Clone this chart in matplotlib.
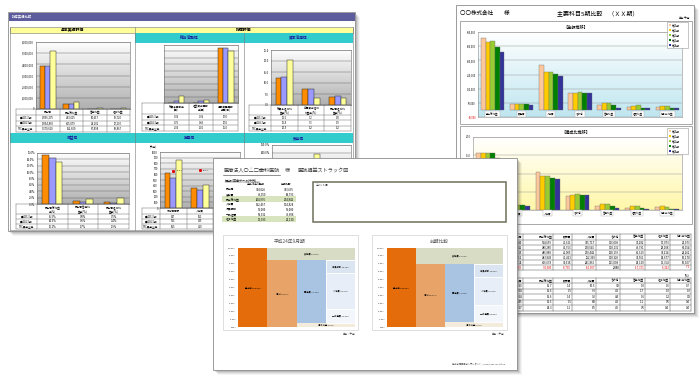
import matplotlib
matplotlib.use("Agg")
import matplotlib.pyplot as plt
import numpy as np
from matplotlib.colors import to_rgb
from matplotlib.patches import Rectangle

plt.rcParams["font.family"] = ["Noto Sans CJK JP", "DejaVu Sans"]

# ---- left sheet: 財務実績比較 ----
l_rows = ["■H23.3期", "■H24.3期", "TKC黒字企業"]
l_colors = ["#ff8c00", "#9999ff", "#ffff99"]

basic_cats = ["売上高", "売上総利益", "営業利益", "経常利益"]
basic_vals = [[3855275, 443615, 30617, 19720],
              [3854860, 405079, 24101, 17200],
              [5170610, 662600, 87894, 69867]]

activity_cats = ["総資本回転率\n(回)", "経営資本回転\n率(回)", "棚卸資産回転\n期間(日)"]
activity_vals = [[0.06, 0.06, 17.0],
                 [0.76, 0.69, 17.0],
                 [2.06, 1.06, 16.0]]

capital_cats = ["総資本経常利\n益率(%)", "自己資本経常\n利益率(%)", "売上高経常利\n益率(%)"]
capital_vals = [[12.5, 7.2, 3.8],
                [12.8, 7.3, 3.9],
                [20.5, 3.2, 3.2]]

profit_cats = ["売上高総利益\n率(%)", "売上高営業利\n益率(%)", "売上高経常利\n益率(%)"]
profit_vals = [[15.5, 0.8, 0.5],
               [14.3, 0.6, 0.4],
               [13.2, 1.7, 1.9]]

product_cats = ["付加価値額", "人件費", "労働生産性"]
product_vals = [[617, 351, 480],
                [533, 315, 450],
                [855, 410, 520]]
labor_share = [57.5, 58.4]

safety_vals = [[120.0, 60.0, 40.0],
               [118.0, 55.0, 42.0],
               [110.0, 136.0, 60.0]]

# ---- right sheet: 主要科目5期比較 ----
periods = ["第10期", "第11期", "第12期", "第13期", "第14期"]
r_colors = ["#fcc79a", "#ffcc00", "#99cc33", "#008000", "#333399"]
items = ["売上総利益", "販売費", "人件費", "その他", "営業利益", "経常利益", "税引前利益"]
amounts = [[504659, 41621, 315717, 116009, 31282, 17073, 21073],
           [480280, 43753, 270545, 118131, 49791, 28108, 30154],
           [486888, 42005, 270442, 128190, 46319, 38214, 24262],
           [443843, 41413, 252369, 118320, 31561, 14677, 10178],
           [406678, 32618, 241862, 121008, 14130, 11354, 10107]]
amount_diff = [-93985, -8795, -10507, 2888, -17371, -5323, -71]
sales_amount = [3212240, 3082242, 3116835, 2861251, 2846914, -364093]
ratios = [[15.7, 1.4, 10.5, 3.8, 1.0, 0.6, 0.7],
          [15.6, 1.5, 9.3, 4.1, 1.7, 1.0, 1.0],
          [15.6, 1.4, 9.2, 4.4, 1.6, 1.2, 0.8],
          [15.5, 1.5, 8.8, 4.1, 1.1, 0.5, 0.4],
          [14.3, 1.1, 8.5, 4.2, 0.5, 0.4, 0.4]]
sales_ratio = ["100.0013", "100.0014", "100.0014", "100.0045", "100.0017"]

# ---- front sheet: 医院損益ストラック図 ----
pl_items = ["売上高", "変動費", "売上総利益", "人件費", "役員報酬", "一般経費", "経常利益"]
pl_now = [314026, 49050, 264976, 152457, 50000, 58332, 13993]
pl_prev = [343635, 68793, 274842, 174824, 50000, 79608, 21130]
strack_titles = ["平成24年9月期", "前期比較"]
sales_pct = [100.0, 100.0]
variable_pct = [15.62, 19.99]
margin_pct = [84.38, 80.01]
fixed_pct = [79.79, 73.84]
officer_pct = [15.89, 16.62]
staff_pct = [45.32, 35.14]
general_pct = [18.58, 22.08]
profit_pct = [4.59, 6.17]

W, H = 700, 378
FRONT = (213, 158, 517, 370)   # front sheet, hides what lies behind it
fig = plt.figure(figsize=(7, 3.78), dpi=100)
fig.patch.set_facecolor("white")


def hidden(x, y):
    return FRONT[0] - 1 < x < FRONT[2] + 1 and FRONT[1] - 2 < y < FRONT[3]


def px_axes(x0, y0, x1, y1):
    return fig.add_axes([x0 / W, 1 - y1 / H, (x1 - x0) / W, (y1 - y0) / H])


def canvas():
    ax = fig.add_axes([0, 0, 1, 1])
    ax.set_xlim(0, W)
    ax.set_ylim(H, 0)
    ax.axis("off")
    return ax


def sheet(cv, x0, y0, x1, y1):
    for d, a in [(5, 0.04), (4, 0.06), (3, 0.08), (2, 0.1), (1, 0.14)]:
        cv.add_patch(Rectangle((x0 + d, y0 + d), x1 - x0, y1 - y0, fc="black", alpha=a, lw=0))
    cv.add_patch(Rectangle((x0, y0), x1 - x0, y1 - y0, fc="white", ec="#8c8c8c", lw=0.6))


def gradient(ax, top, bottom):
    t = np.linspace(0, 1, 64)[:, None, None]
    img = np.array(to_rgb(top)) * (1 - t) + np.array(to_rgb(bottom)) * t
    ax.imshow(img, extent=[0, 1, 0, 1], transform=ax.transAxes, aspect="auto", zorder=0)


def grid_table(cv, xe, ye, cells, fs=1.9, lw=0.3, colors=None, ha="center"):
    for x in xe:
        cv.plot([x, x], [ye[0], ye[-1]], color="#555555", lw=lw)
    for y in ye:
        cv.plot([xe[0], xe[-1]], [y, y], color="#555555", lw=lw)
    for r, row in enumerate(cells):
        for c, txt in enumerate(row):
            col = "black" if colors is None else colors[r][c]
            cy = (ye[r] + ye[r + 1]) / 2
            if ha == "right" and c > 0:
                tx, align = xe[c + 1] - 0.8, "right"
            else:
                tx, align = (xe[c] + xe[c + 1]) / 2, "center"
            if hidden(tx, cy):
                continue
            cv.text(tx, cy, txt, fontsize=fs, ha=align, va="center", color=col, linespacing=0.9)


def left_chart(box, vals, ymax, ystep, fmt):
    ax = px_axes(*box)
    gradient(ax, "#fdfdfd", "#b0b0b0")
    x = np.arange(len(vals[0]))
    for i, (v, c) in enumerate(zip(vals, l_colors)):
        ax.bar(x + (i - 1) * 0.22, v, 0.22, color=c, edgecolor="#303030", lw=0.35, zorder=3)
    ax.set_xlim(-0.5, len(x) - 0.5)
    ax.set_ylim(0, ymax)
    ticks = np.arange(0, ymax + ystep / 2, ystep)
    ax.set_yticks(ticks)
    labels = []
    for t in ticks:
        ypix = box[3] - t / ymax * (box[3] - box[1])
        labels.append("" if (fmt is None or hidden(box[0] - 3, ypix)) else fmt(t))
    ax.set_yticklabels(labels, fontsize=1.9)
    ax.yaxis.grid(True, color="#5a5a5a", lw=0.3)
    ax.set_axisbelow(True)
    ax.set_xticks([])
    ax.tick_params(length=0, pad=1.5)
    for s in ax.spines.values():
        s.set_color("#666666")
        s.set_linewidth(0.4)
    return ax


def left_rows(cats, vals, fmt):
    cells = [[""] + [c for c in cats]]
    for lab, v in zip(l_rows, vals):
        cells.append([lab] + [fmt(a) for a in v])
    return cells


# ================= left sheet =================
cv0 = canvas()
sheet(cv0, 8, 12, 355, 231)
cv0.add_patch(Rectangle((8.5, 13), 346, 7.5, fc="#5d5d9e", lw=0))
cv0.text(12, 16.8, "財務実績比較", fontsize=2.4, color="white", va="center")
cv0.add_patch(Rectangle((10, 26.5), 343, 6.5, fc="#ffff99", ec="#777777", lw=0.4))
cv0.text(73, 29.8, "基本実績評価", fontsize=2.8, va="center", ha="center", weight="bold")
cv0.text(244, 29.8, "指標評価", fontsize=2.8, va="center", ha="center", weight="bold")
cv0.add_patch(Rectangle((135, 33), 218, 10, fc="#33cccc", lw=0))
cv0.add_patch(Rectangle((10, 133), 343, 10, fc="#33cccc", lw=0))
for name, cx, cy in [("総合活動性", 189.5, 38), ("資本活用性", 298.5, 38),
                     ("収益性", 72.5, 138), ("生産性", 189.5, 138), ("安全性", 298.5, 138)]:
    cv0.text(cx, cy, name, fontsize=2.7, ha="center", va="center", color="#1a1a9c", weight="bold")
for x in [10, 135, 353]:
    cv0.plot([x, x], [26.5, 230], color="#777777", lw=0.4)
cv0.plot([244, 244], [33, 230], color="#777777", lw=0.4)
cv0.plot([10, 353], [230, 230], color="#777777", lw=0.4)

left_chart((36, 42, 130, 109), basic_vals, 6000000, 1000000, lambda t: f"{t:,.0f}")
left_chart((164, 45, 238, 103), activity_vals, 18, 2, None)
left_chart((271, 50, 351, 105), capital_vals, 25, 5, lambda t: f"{t:.1f}")
left_chart((37, 153, 129, 204), profit_vals, 16, 2, lambda t: f"{t:.1f}%")
ax_e = left_chart((160, 152, 240, 208), product_vals, 1000, 100, lambda t: f"{t:.0f}")
ax_e2 = ax_e.twinx()
ax_e2.plot(np.arange(len(labor_share)), labor_share, "s", color="#e00000", ms=1.1, zorder=5)
for i, v in enumerate(labor_share):
    ax_e2.text(i + 0.12, v, f"{v:.1f}%", fontsize=1.6, va="center")
ax_e2.set_ylim(0, 87)
ax_e2.axis("off")
left_chart((272, 145, 351, 205), safety_vals, 160, 20, lambda t: f"{t:.1f}%")
cv0b = canvas()
cv0b.text(150, 147.5, "(千円)", fontsize=1.8, va="center")

grid_table(cv0b, [16, 36, 59.5, 83, 106.5, 130], [109, 115, 120.5, 126, 131.5],
           left_rows(basic_cats, basic_vals, lambda a: f"{a:,.0f}"))
grid_table(cv0b, [142, 164, 188.7, 213.3, 238], [103, 114, 119.7, 125.3, 131],
           left_rows(activity_cats, activity_vals, lambda a: f"{a:.2f}" if a < 5 else f"{a:.1f}"))
grid_table(cv0b, [249, 271, 297.7, 324.3, 351], [105, 115, 120.3, 125.7, 131],
           left_rows(capital_cats, capital_vals, lambda a: f"{a:.1f}"))
grid_table(cv0b, [16, 37, 67.7, 98.3, 129], [204, 214, 219, 224, 229],
           left_rows(profit_cats, profit_vals, lambda a: f"{a:.1f}%"))
grid_table(cv0b, [142, 160, 186.7, 213.3, 240], [208, 214, 219, 224, 229],
           left_rows(product_cats, product_vals, lambda a: f"{a:.0f}"))

# ================= right sheet =================
cv1 = canvas()
sheet(cv1, 456, 5, 694, 313)
cv1.text(460, 13, "〇〇株式会社　　様", fontsize=4.0, va="center")
cv1.text(598, 13, "主要科目5期比較　（ＸＸ期）", fontsize=4.3, va="center", ha="center")
cv1.text(690, 18, "単位:千円", fontsize=1.9, va="center", ha="right")
cv1.add_patch(Rectangle((460, 21), 232, 103, fc="white", ec="#9a9a9a", lw=0.6))
cv1.add_patch(Rectangle((460, 126), 232, 98, fc="white", ec="#9a9a9a", lw=0.6))
cv1.text(576, 28, "【金額推移】", fontsize=3.0, ha="center", va="center")
cv1.text(576, 133, "【構成比推移】", fontsize=3.0, ha="center", va="center")


def right_chart(box, data, lo, hi, step, fmt, top, bottom, label_y):
    ax = px_axes(*box)
    gradient(ax, top, bottom)
    x = np.arange(len(items))
    for i, (v, c) in enumerate(zip(data, r_colors)):
        ax.bar(x + (i - 2) * 0.16, v, 0.16, color=c, edgecolor="#666666", lw=0.25, zorder=3)
    ax.set_xlim(-0.5, len(items) - 0.5)
    ax.set_ylim(lo, hi)
    ticks = np.arange(lo, hi + step / 2, step)
    ax.set_yticks(ticks)
    labels = []
    for t in ticks:
        ypix = box[3] - (t - lo) / (hi - lo) * (box[3] - box[1])
        labels.append("" if hidden(box[0] - 3, ypix) else fmt(t))
    labs = ax.set_yticklabels(labels, fontsize=1.8)
    for t, lab in zip(ticks, labs):
        if t < 0:
            lab.set_color("#e00000")
    ax.yaxis.grid(True, color="#8a8a8a", lw=0.3)
    ax.set_axisbelow(True)
    ax.set_xticks([])
    ax.tick_params(length=0, pad=1.5)
    for s in ax.spines.values():
        s.set_color("#8a8a8a")
        s.set_linewidth(0.4)
    for i, name in enumerate(items):
        ax.text(i, label_y, name, fontsize=1.8, ha="center", va="center", clip_on=False,
                bbox=dict(boxstyle="square,pad=0.35", fc="white", ec="#aaaaaa", lw=0.3))
    return ax


right_chart((478, 32, 682, 117), amounts, -50000, 550000, 100000,
            lambda t: f"{t:,.0f}", "#ffffff", "#bfe6f0", -28000)
right_chart((473, 137, 682, 210), ratios, 0, 20, 5,
            lambda t: f"{t:.1f}", "#ffffff", "#fff7a8", -0.9)

cv1b = canvas()
for y0 in [22, 128]:
    cv1b.add_patch(Rectangle((667, y0), 21, 26, fc="white", ec="#9a9a9a", lw=0.4))
    for k, (p, c) in enumerate(zip(periods, r_colors)):
        yy = y0 + 3 + k * 5
        cv1b.add_patch(Rectangle((669, yy - 1), 2, 2, fc=c, lw=0))
        cv1b.text(672, yy, p, fontsize=1.8, va="center")

head = ["年　度", "売上高"] + items
xe = [462, 495, 523, 553, 572, 596, 620, 645, 670, 691]
t1 = [head]
c1 = [["black"] * len(head)]
for p, s, row in zip(periods, sales_amount, amounts):
    t1.append([p, f"{s:,.0f}"] + [f"{a:,.0f}" for a in row])
    c1.append(["black"] * len(head))
t1.append(["増減", f"{sales_amount[-1]:,.0f}"] + [f"{a:,.0f}" for a in amount_diff])
c1.append(["#e00000" if a < 0 else "black" for a in [-1, sales_amount[-1]] + amount_diff])
c1[-1][0] = "black"
grid_table(cv1b, xe, [234, 239.5, 244.5, 249.5, 254.5, 259.5, 264.5, 270], t1,
           fs=2.0, lw=0.35, colors=c1, ha="right")
cv1b.text(689, 275, "(%)", fontsize=2.0, ha="right", va="center")
t2 = [head]
for p, s, row in zip(periods, sales_ratio, ratios):
    t2.append([p, s] + [f"{a:.1f}" for a in row])
grid_table(cv1b, xe, [278, 283, 288.5, 294, 299.5, 305, 310.5], t2, fs=2.0, lw=0.35, ha="right")

# ================= front sheet =================
cv2 = canvas()
sheet(cv2, *FRONT)
cv2.text(223, 171, "医療法人〇△□歯科医院", fontsize=3.7, va="center", color="#3c3c3c")
cv2.plot([223, 280], [174.5, 174.5], color="#3c3c3c", lw=0.4)
cv2.text(285, 171, "様", fontsize=3.7, va="center", color="#3c3c3c")
cv2.text(297, 171, "医院損益ストラック図", fontsize=3.7, va="center", color="#3c3c3c")

cv2.text(225, 180, "損益計算書データ(千円)", fontsize=2.2, va="center", color="#333333")
cv2.plot([225, 260], [182, 182], color="#333333", lw=0.3)
cv2.text(256, 184.2, "平成24年9月期", fontsize=1.9, va="center", ha="center")
cv2.text(286, 184.2, "前期比較", fontsize=1.9, va="center", ha="center")
for k, (lab, a, b) in enumerate(zip(pl_items, pl_now, pl_prev)):
    yy = 189 + k * 5
    if lab in ("売上総利益", "経常利益"):
        cv2.add_patch(Rectangle((222, yy - 2.6), 74, 5.2, fc="#d7e4bd", lw=0))
    cv2.text(226, yy, lab, fontsize=2.0, va="center")
    cv2.text(266, yy, f"{a:,.0f}", fontsize=2.0, va="center", ha="right")
    cv2.text(294, yy, f"{b:,.0f}", fontsize=2.0, va="center", ha="right")

cv2.add_patch(Rectangle((313, 182), 193, 40, fc="none", ec="#6f6f5a", lw=1.1))
cv2.text(315.5, 185, "コメント欄", fontsize=1.8, va="center")

for bx, title in zip([223, 372], strack_titles):
    cv2.add_patch(Rectangle((bx, 235), 135, 95, fc="white", ec="#d2d2d2", lw=0.5))
    cv2.text(bx + 67, 241.5, title, fontsize=3.4, ha="center", va="center", color="#555555")
    cv2.text(bx + 132, 334, "単位：千円", fontsize=1.8, ha="right", va="center", color="#444444")
cv2.text(505, 363.5, "株式会社〇〇コンサルタント / Advantage Tax Office", fontsize=1.6,
         ha="right", va="center", color="#444444")


def strack(box, i):
    ax = px_axes(*box)
    ax.bar(0, sales_pct[i], 1, align="edge", color="#e46c0a", zorder=2)
    ax.bar(1, variable_pct[i], 3, bottom=margin_pct[i], align="edge", color="#d8dcc4", zorder=2)
    ax.bar(1, margin_pct[i], 1, align="edge", color="#e8a468", zorder=2)
    ax.bar(2, fixed_pct[i], 1, bottom=profit_pct[i], align="edge", color="#a9c4e2", zorder=2)
    ax.bar(2, profit_pct[i], 2, align="edge", color="#f3ecdc", zorder=2)
    parts = [(general_pct[i], "一般経費", "#f3f6fa"),
             (staff_pct[i], "人件費", "#e8eef7"),
             (officer_pct[i], "役員報酬", "#dbe5f1")]
    b = profit_pct[i]
    for v, name, c in parts:
        ax.bar(3, v, 1, bottom=b, align="edge", color=c, edgecolor="white", lw=0.6, zorder=2)
        ax.text(3.5, b + v / 2, f"{name} {v:.2f}%", fontsize=1.6, ha="center", va="center", zorder=4)
        b += v
    labels = [(0.5, sales_pct[i] / 2, f"売上高 {sales_pct[i]:.2f}%"),
              (1.5, margin_pct[i] / 2, f"粗利 {margin_pct[i]:.2f}%"),
              (2.5, profit_pct[i] + fixed_pct[i] / 2, f"固定費 {fixed_pct[i]:.2f}%"),
              (2.5, margin_pct[i] + variable_pct[i] / 2, f"変動費 {variable_pct[i]:.2f}%"),
              (3.0, profit_pct[i] / 2, f"経常利益 {profit_pct[i]:.2f}%")]
    for x, y, s in labels:
        ax.text(x, y, s, fontsize=1.6, ha="center", va="center", zorder=4)
    ax.set_xlim(0, 4)
    ax.set_ylim(0, 100)
    ax.set_yticks(np.arange(0, 101, 10))
    ax.set_yticklabels([f"{t:.2f}%" for t in np.arange(0, 101, 10)], fontsize=1.5, color="#444444")
    ax.yaxis.grid(True, color="#e4e4e4", lw=0.3)
    ax.set_axisbelow(True)
    ax.set_xticks([])
    ax.tick_params(length=0, pad=1.2)
    for s in ax.spines.values():
        s.set_visible(False)


strack((238, 248, 355, 327), 0)
strack((387, 248, 503, 327), 1)

fig.savefig("out.png", dpi=100)
